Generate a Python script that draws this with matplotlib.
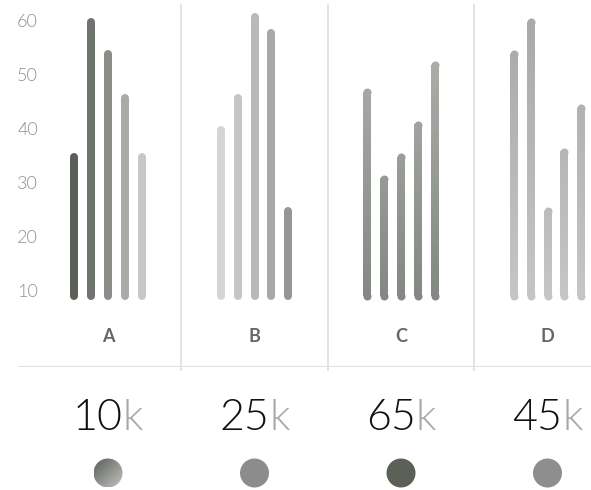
import numpy as np
import matplotlib
matplotlib.use("Agg")
import matplotlib.pyplot as plt
from matplotlib import font_manager as fm
from matplotlib.colors import to_rgb, LinearSegmentedColormap
from matplotlib.patches import Ellipse

plt.rcParams['font.family'] = ['Lato', 'DejaVu Sans']

# ---------------- data ----------------
categories = ["A", "B", "C", "D"]
series_A = [35, 60, 54, 46, 35]
series_B = [40, 46, 61, 58, 25]
series_C = [47, 31, 35, 41, 52]
series_D = [54, 60, 25, 36, 44]
totals = ["10", "25", "65", "45"]
total_unit = "k"
y_ticks = [10, 20, 30, 40, 50, 60]
baseline = 9.3

# ---------------- styles ----------------
bar_colors_A = ["#5a5f57", "#70746e", "#8b8e88", "#a9aba7", "#c7c8c5"]
bar_colors_B = ["#d5d5d7", "#c5c5c8", "#b9b9bb", "#a8a8aa", "#969696"]
grad_C = ("#b2b4b0", "#838882")   # (top, bottom)
grad_D = ("#a8a8aa", "#c5c5c8")
circle_colors = [None, "#8c8c8c", "#5c6158", "#8e8e8e"]
sep_color = "#e0e0e0"

# find a Lato Light face (not Hairline / Thin)
light_fp = None
for f in fm.findSystemFonts():
    name = f.lower().split("/")[-1]
    if "lato" in name and "light" in name and "italic" not in name \
            and "hairline" not in name and "thin" not in name:
        light_fp = f
        break


def light(size):
    if light_fp:
        return fm.FontProperties(fname=light_fp, size=size)
    return fm.FontProperties(family=["Lato", "DejaVu Sans"], weight="normal", size=size)


W, H = 591, 490
fig = plt.figure(figsize=(W / 100, H / 100), dpi=100)

ax = fig.add_axes([18 / W, 1 - 367 / H, (W - 18) / W, 367 / H])
px_per_unit = 5.4
ytop = 10 + 292 / px_per_unit
ybot = 10 - (367 - 292) / px_per_unit
gsp = 146.5
x_left = (18 - 108) / gsp
x_right = (591 - 108) / gsp
ax.set_xlim(x_left, x_right)
ax.set_ylim(ybot, ytop)
ax.axis("off")

lw_px = 8
lw_pt = lw_px * 72 / 100
offsets = np.array([-2, -1, 0, 1, 2]) * (16.8 / gsp)


def solid_bar(x, v, color):
    ax.plot([x, x], [baseline, v], color=color, lw=lw_pt,
            solid_capstyle="round", zorder=3)


def grad_bar(x, v, ctop, cbot, lo=baseline, hi=62):
    ct, cb = np.array(to_rgb(ctop)), np.array(to_rgb(cbot))
    n = 60
    ys = np.linspace(baseline, v, n + 1)
    for i in range(n):
        ym = 0.5 * (ys[i] + ys[i + 1])
        t = (ym - lo) / (hi - lo)
        c = cb + (ct - cb) * t
        ax.plot([x, x], [ys[i], ys[i + 1] + 0.05], color=c, lw=lw_pt,
                solid_capstyle="butt", zorder=3)
    for yy in (baseline, v):
        t = (yy - lo) / (hi - lo)
        c = cb + (ct - cb) * t
        ax.plot([x], [yy], marker="o", ms=lw_pt, mew=0, color=c, zorder=3)


for j, v in enumerate(series_A):
    solid_bar(0 + offsets[j], v, bar_colors_A[j])
for j, v in enumerate(series_B):
    solid_bar(1 + offsets[j], v, bar_colors_B[j])
for j, v in enumerate(series_C):
    grad_bar(2 + offsets[j], v, *grad_C)
for j, v in enumerate(series_D):
    grad_bar(3 + offsets[j], v, *grad_D)

# separators
for k in range(1, 4):
    ax.plot([k - 0.5, k - 0.5], [ytop - 5 / px_per_unit, ybot - 3 / px_per_unit],
            color=sep_color, lw=1.3, clip_on=False, zorder=1)
ax.axhline(ybot + 0.05, color=sep_color, lw=1.5, zorder=1)

# y labels
xl = (38 - 18) / gsp + x_left
for t in y_ticks:
    ax.text(xl, t, str(t), ha="right", va="center", fontproperties=light(13),
            color="#8f8f8f")

# category labels
ycat = 10 - (336 - 292) / px_per_unit
for i, c in enumerate(categories):
    ax.text(i, ycat, c, ha="center", va="center", fontsize=13,
            fontweight="bold", color="#666666")

# bottom axes
ax2 = fig.add_axes([18 / W, 0, (W - 18) / W, (H - 367) / H])
ax2.set_xlim(x_left, x_right)
ax2.set_ylim(H, 367)
ax2.axis("off")

fig.canvas.draw()
renderer = fig.canvas.get_renderer()
ynum = 418
for i, num in enumerate(totals):
    full = ax2.text(i, ynum, num + total_unit, ha="center", va="center",
                    fontproperties=light(31), alpha=0)
    bb = full.get_window_extent(renderer)
    x0_data = ax2.transData.inverted().transform((bb.x0, 0))[0]
    tn = ax2.text(x0_data, ynum, num, ha="left", va="center",
                  fontproperties=light(31), color="#111111")
    bn = tn.get_window_extent(renderer)
    x1_data = ax2.transData.inverted().transform((bn.x1, 0))[0]
    ax2.text(x1_data, ynum, total_unit, ha="left", va="center",
             fontproperties=light(31), color="#a8a8a8")

# circles
ycirc = 473
r_px = 14.5
unit_px = ax2.transData.transform((1, 0))[0] - ax2.transData.transform((0, 0))[0]
r_data_x = r_px / unit_px
for i in range(4):
    if circle_colors[i] is None:
        gx, gy = np.meshgrid(np.linspace(0, 1, 64), np.linspace(0, 1, 64))
        g = (gx + gy) / 2
        cmap = LinearSegmentedColormap.from_list("g", ["#5b6059", "#c0c2be"])
        im = ax2.imshow(g, cmap=cmap, extent=(i - r_data_x, i + r_data_x,
                                               ycirc + r_px, ycirc - r_px),
                        origin="upper", aspect="auto", zorder=2,
                        interpolation="bilinear")
        clip = Ellipse((i, ycirc), 2 * r_data_x, 2 * r_px, transform=ax2.transData,
                       facecolor="none", edgecolor="none")
        ax2.add_patch(clip)
        im.set_clip_path(clip)
    else:
        ax2.scatter([i], [ycirc], s=(2 * r_px * 72 / 100) ** 2, color=circle_colors[i],
                    edgecolors="none", zorder=2)

ax2.set_xlim(x_left, x_right)
ax2.set_ylim(H, 367)

fig.savefig("out.png", dpi=100)
